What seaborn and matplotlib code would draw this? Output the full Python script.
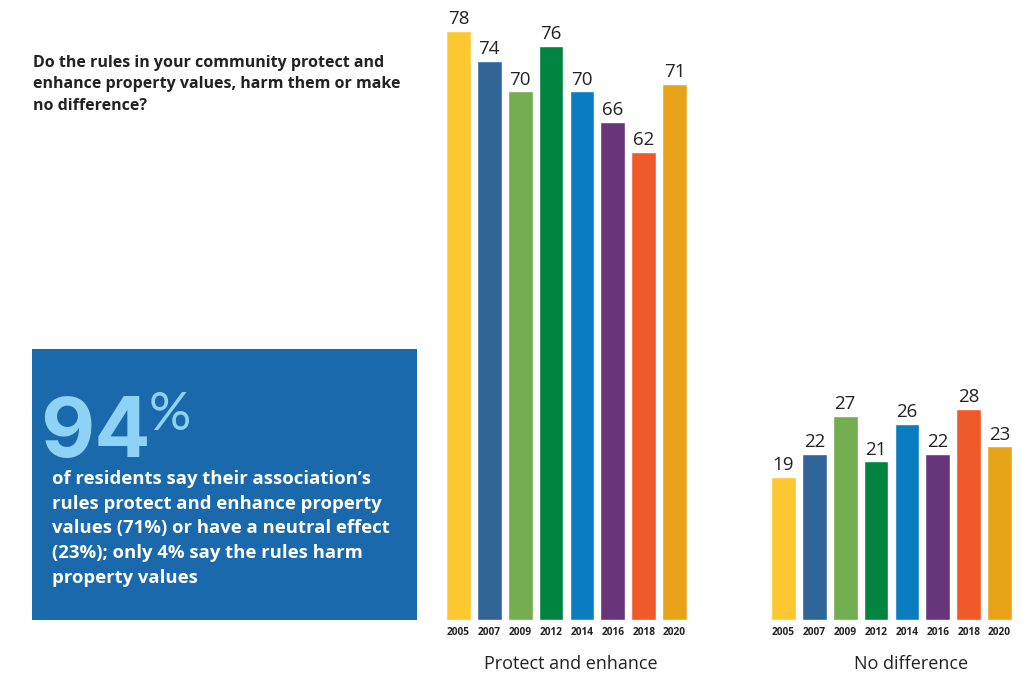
import numpy as np
import pandas as pd
import seaborn as sns
import matplotlib.pyplot as plt
from matplotlib.patches import Rectangle
import matplotlib.transforms as mtrans

years = ['2005', '2007', '2009', '2012', '2014', '2016', '2018', '2020']
groups = ['Protect and enhance', 'No difference']
protect = [78, 74, 70, 76, 70, 66, 62, 71]
no_diff = [19, 22, 27, 21, 26, 22, 28, 23]
colors = ['#fdc72f', '#2f6598', '#72ad50', '#00843f', '#0a7dc1',
          '#69357a', '#f05a28', '#e9a318']

question = ('Do the rules in your community protect and\n'
            'enhance property values, harm them or make\n'
            'no difference?')
big_num = '94'
callout = ("of residents say their association\u2019s\n"
           "rules protect and enhance property\n"
           "values (71%) or have a neutral effect\n"
           "(23%); only 4% say the rules harm\n"
           "property values")

df = pd.DataFrame({
    'group': [groups[0]] * len(years) + [groups[1]] * len(years),
    'year': years + years,
    'value': protect + no_diff,
})

sns.set_style('white')
plt.rcParams['font.family'] = ['Open Sans', 'DejaVu Sans']

W, H = 1035, 677
fig = plt.figure(figsize=(W / 100, H / 100), dpi=100)
ax = fig.add_axes([435 / W, 57 / H, 590 / W, 620 / H])

sns.barplot(data=df, x='group', y='value', hue='year', palette=colors,
            width=0.76, gap=0.2, saturation=1, legend=False, ax=ax)

ax.set_xlim(-0.4046, 1.4108)
ax.set_ylim(0, 82.1)
for c in ax.containers:
    ax.bar_label(c, padding=2, fontsize=13.5, color='#222222')

# year labels under each bar
trans = mtrans.blended_transform_factory(ax.transData, ax.transAxes)
for k, c in enumerate(ax.containers):
    for p in c.patches:
        ax.text(p.get_x() + p.get_width() / 2, -0.011, years[k], transform=trans,
                ha='center', va='top', fontsize=7.3, fontweight='bold', color='#222222')

ax.text(0.012, -0.056, groups[0], transform=trans, ha='center', va='top',
        fontsize=13, color='#222222')
ax.text(1.06, -0.056, groups[1], transform=trans, ha='center', va='top',
        fontsize=13, color='#222222')

ax.set_xticks([])
ax.set_yticks([])
ax.set_xlabel('')
ax.set_ylabel('')
sns.despine(ax=ax, left=True, bottom=True)

# question text
fig.text(33 / W, 1 - 55 / H, question, ha='left', va='top', fontsize=11.5,
         fontweight='bold', color='#222222', linespacing=1.45)

# blue callout box
fig.patches.append(Rectangle((32 / W, 1 - 620 / H), 385 / W, 271 / H,
                             transform=fig.transFigure, facecolor='#1b69ad',
                             edgecolor='none'))
fig.text(40 / W, 1 - 457 / H, big_num, ha='left', va='baseline', fontsize=60,
         fontweight='bold', color='#8dd3f6', family=['Inter', 'DejaVu Sans'])
fig.text(149 / W, 1 - 430 / H, '%', ha='left', va='baseline', fontsize=38,
         fontweight='normal', color='#8dd3f6', family=['Lato', 'DejaVu Sans'])
fig.text(52 / W, 1 - 470 / H, callout, ha='left', va='top', fontsize=13.3,
         fontweight='bold', color='white', linespacing=1.48)

fig.savefig('out.png', dpi=100)
